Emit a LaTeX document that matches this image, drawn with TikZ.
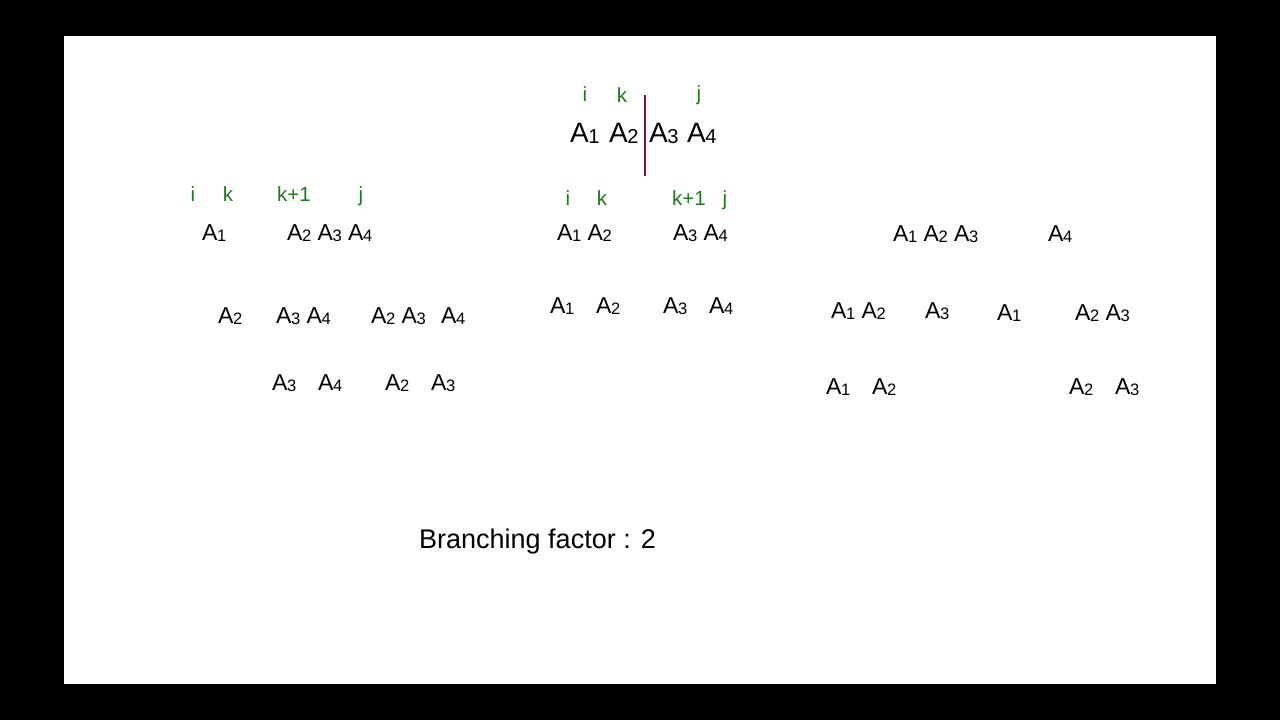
\documentclass[tikz,border=0pt]{standalone}
\usepackage{fontspec}
\setmainfont{Liberation Sans}
\usepackage{graphicx}
\newcommand{\Asub}[1]{A\kern-0.02em\raisebox{-0.07em}{\scalebox{0.72}{#1}}}
\definecolor{lblgreen}{HTML}{1E7A1E}
\definecolor{cutline}{HTML}{7A0F4F}
\begin{document}
\begin{tikzpicture}[x=1pt,y=-1pt,
  toprow/.style={font=\fontsize{28}{33}\selectfont, inner sep=0pt, anchor=base west},
  lvl/.style={font=\fontsize{23}{27}\selectfont, inner sep=0pt, anchor=base west},
  lbl/.style={font=\fontsize{20.5}{24}\selectfont, text=lblgreen, inner sep=0pt, anchor=base},
  caption/.style={font=\fontsize{27}{32}\selectfont, inner sep=0pt, anchor=base west}]
\useasboundingbox (0,0) rectangle (1280,720);
\fill[black] (0,0) rectangle (1280,720);
\fill[white] (64,36) rectangle (1216,684);

% top
\node[lbl] (ti) at (585,101) {i};
\node[lbl] (tk) at (622,102) {k};
\node[lbl] (tj) at (699,100) {j};
\node[toprow] (t1) at (570,142) {\Asub1};
\node[toprow] (t2) at (609,142) {\Asub2};
\node[toprow] (t3) at (649,142) {\Asub3};
\node[toprow] (t4) at (687,142) {\Asub4};
\coordinate (cutA) at (645,95);
\coordinate (cutB) at (645,176);
\draw[cutline, line width=1.6pt] (cutA) -- (cutB);

% left group
\node[lbl] (li) at (193,201) {i};
\node[lbl] (lk) at (228,201) {k};
\node[lbl] (lk1) at (294,201) {k+1};
\node[lbl] (lj) at (361,201) {j};
\node[lvl] (l1a) at (202,240) {\Asub1};
\node[lvl] (l1b) at (287,240) {\Asub2 \Asub3 \Asub4};
\node[lvl] (l2a) at (218,323) {\Asub2};
\node[lvl] (l2b) at (276,323) {\Asub3 \Asub4};
\node[lvl] (l2c) at (371,323) {\Asub2 \Asub3};
\node[lvl] (l2d) at (441,323) {\Asub4};
\node[lvl] (l3a) at (272,390) {\Asub3};
\node[lvl] (l3b) at (318,390) {\Asub4};
\node[lvl] (l3c) at (385,390) {\Asub2};
\node[lvl] (l3d) at (431,390) {\Asub3};

% middle group
\node[lbl] (mi) at (568,205) {i};
\node[lbl] (mk) at (602,205) {k};
\node[lbl] (mk1) at (689,205) {k+1};
\node[lbl] (mj) at (725,205) {j};
\node[lvl] (m1a) at (557,240) {\Asub1 \Asub2};
\node[lvl] (m1b) at (673,240) {\Asub3 \Asub4};
\node[lvl] (m2a) at (550,313) {\Asub1};
\node[lvl] (m2b) at (596,313) {\Asub2};
\node[lvl] (m2c) at (663,313) {\Asub3};
\node[lvl] (m2d) at (709,313) {\Asub4};

% right group
\node[lvl] (r1a) at (893,241) {\Asub1 \Asub2 \Asub3};
\node[lvl] (r1b) at (1048,241) {\Asub4};
\node[lvl] (r2a) at (831,318) {\Asub1 \Asub2};
\node[lvl] (r2b) at (925,318) {\Asub3};
\node[lvl] (r2c) at (997,320) {\Asub1};
\node[lvl] (r2d) at (1075,320) {\Asub2 \Asub3};
\node[lvl] (r3a) at (826,394) {\Asub1};
\node[lvl] (r3b) at (872,394) {\Asub2};
\node[lvl] (r3c) at (1069,394) {\Asub2};
\node[lvl] (r3d) at (1115,394) {\Asub3};

\node[caption] (bf) at (419,548) {Branching factor : 2};
\end{tikzpicture}
\end{document}
